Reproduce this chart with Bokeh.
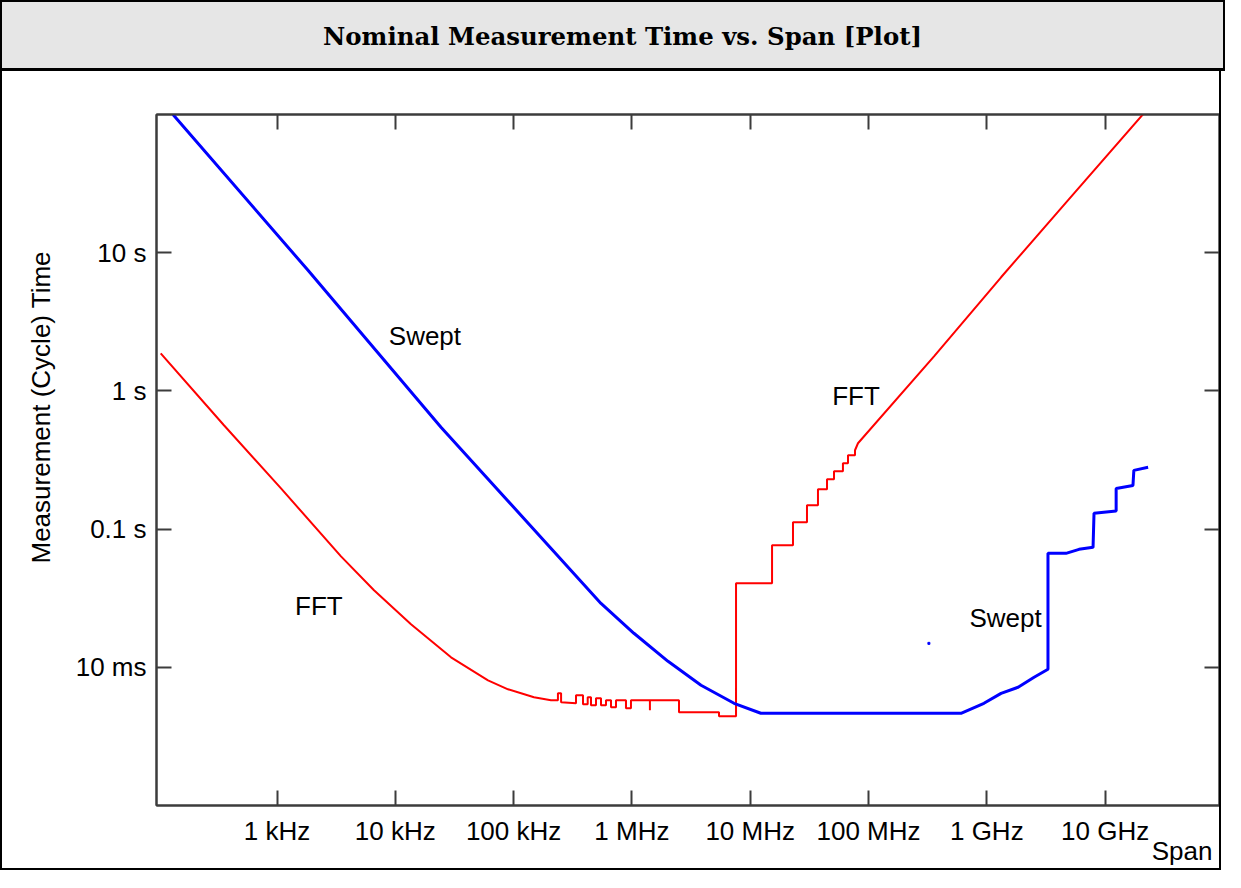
from bokeh.plotting import figure
from bokeh.models import Range1d, FixedTicker, LogAxis, Label, Title, Div
from bokeh.layouts import column
from bokeh.embed import file_html
from bokeh.resources import INLINE

# ---------------- data ----------------
title_text = "Nominal Measurement Time vs. Span [Plot]"
x_axis_title = "Span"
y_axis_title = "Measurement (Cycle) Time"

x_ticks = [1000, 10000, 100000, 1000000, 10000000, 100000000, 1000000000, 10000000000]
x_tick_labels = ["1 kHz", "10 kHz", "100 kHz", "1 MHz", "10 MHz", "100 MHz", "1 GHz", "10 GHz"]
y_ticks = [0.01, 0.1, 1.0, 10.0]
y_tick_labels = ["10 ms", "0.1 s", "1 s", "10 s"]

# Swept measurement time (s) vs span (Hz)
swept_span_hz = [132, 1828, 24330, 5.48e5, 1.04e6, 2.02e6, 3.84e6, 7.30e6, 1.23e7,
                 6.05e8, 9.46e8, 1.32e9, 1.84e9, 2.51e9, 3.29e9, 3.29e9, 4.67e9,
                 6.02e9, 7.91e9, 8.06e9, 1.24e10, 1.24e10, 1.72e10, 1.75e10, 2.31e10]
swept_time_s = [100, 7.46, 0.546, 0.0290, 0.01763, 0.01105, 0.00741, 0.00549, 0.00465,
                0.00465, 0.00549, 0.00648, 0.00717, 0.00847, 0.00967, 0.0668, 0.0668,
                0.0714, 0.0738, 0.130, 0.135, 0.197, 0.207, 0.266, 0.280]
swept_dot_hz = [3.24e8]
swept_dot_s = [0.0149]

# FFT measurement time (s) vs span (Hz)
fft_span_hz = [104, 356, 1081, 3475, 6607, 13570, 29580, 60770, 89700, 148700, 207000,
               237e3, 237e3, 252e3, 252e3, 337e3, 337e3, 386e3, 386e3,
               423e3, 423e3, 451e3, 451e3, 497e3, 497e3, 548e3, 548e3,
               604e3, 604e3, 666e3, 666e3, 734e3, 734e3, 891e3, 891e3,
               982e3, 982e3, 1.42e6, 1.42e6, 1.42e6, 2.50e6, 2.50e6,
               5.45e6, 5.45e6, 7.59e6, 7.59e6,
               15.3e6, 15.3e6, 23.0e6, 23.0e6, 30.2e6, 30.2e6, 37.4e6, 37.4e6,
               44.6e6, 44.6e6, 51.1e6, 51.1e6, 60.8e6, 60.8e6, 67.1e6, 67.1e6,
               76.9e6, 76.9e6, 81.5e6, 358e6, 1.32e9, 4.85e9, 2.09e10]
fft_time_s = [1.87, 0.564, 0.197, 0.0635, 0.0361, 0.0205, 0.01181, 0.00805, 0.00693,
              0.00607, 0.00577,
              0.00577, 0.00648, 0.00648, 0.00558, 0.00549, 0.00627, 0.00627, 0.00540,
              0.00540, 0.00607, 0.00607, 0.00531, 0.00531, 0.00597, 0.00597, 0.00531,
              0.00531, 0.00577, 0.00577, 0.00514, 0.00514, 0.00577, 0.00577, 0.00505,
              0.00505, 0.00577, 0.00577, 0.00489, 0.00577, 0.00577, 0.00473,
              0.00473, 0.00442, 0.00442, 0.0405,
              0.0405, 0.0764, 0.0764, 0.112, 0.112, 0.149, 0.149, 0.194,
              0.194, 0.229, 0.229, 0.262, 0.262, 0.299, 0.299, 0.342,
              0.342, 0.372, 0.418, 1.78, 6.64, 23.9, 100.3]

# annotation texts
curve_labels = ["Swept", "FFT", "FFT", "Swept"]

# ---------------- styling ----------------
FONT = "Liberation Sans"
FS = "26px"
FRAME = "#3c3c3c"
W = 1225

header = Div(text=title_text, width=W, height=71, margin=(0, 0, 0, 0),
             styles={"background-color": "#e6e6e6",
                     "border": "2px solid black",
                     "border-bottom": "3px solid black",
                     "box-sizing": "border-box",
                     "padding-left": "20px",
                     "font-family": "DejaVu Serif",
                     "font-weight": "bold",
                     "font-size": "24.4px",
                     "color": "black",
                     "text-align": "center",
                     "line-height": "70px"})

p = figure(width=W - 4, height=799, x_axis_type="log", y_axis_type="log",
           x_range=Range1d(95.8, 9.27e10), y_range=Range1d(1e-3, 1e2),
           toolbar_location=None, output_backend="svg",
           min_border_left=154, min_border_right=4, min_border_top=43,
           min_border_bottom=65, background_fill_color="white",
           border_fill_color="white", outline_line_color=FRAME,
           outline_line_width=2, margin=(0, 0, 0, 0),
           styles={"border-left": "2px solid black",
                   "border-right": "2px solid black",
                   "border-bottom": "2px solid black"})
p.grid.visible = False


def style_axis(ax, ticks, labels, size=FS):
    ax.ticker = FixedTicker(ticks=ticks, minor_ticks=[])
    ax.major_label_overrides = {t: l for t, l in zip(ticks, labels)}
    ax.major_tick_in = 15
    ax.major_tick_out = 0
    ax.major_tick_line_width = 2
    ax.major_tick_line_color = FRAME
    ax.minor_tick_line_color = None
    ax.axis_line_color = FRAME
    ax.axis_line_width = 2
    ax.major_label_text_font = FONT
    ax.major_label_text_font_size = size
    ax.major_label_text_color = "black"


style_axis(p.xaxis[0], x_ticks, x_tick_labels)
style_axis(p.yaxis[0], y_ticks, y_tick_labels)
p.xaxis[0].major_label_standoff = 10
p.yaxis[0].major_label_standoff = 10

top_axis = LogAxis()
style_axis(top_axis, x_ticks, ["" for _ in x_ticks], "1px")
top_axis.major_label_standoff = 0
p.add_layout(top_axis, "above")
right_axis = LogAxis()
style_axis(right_axis, y_ticks, ["" for _ in y_ticks], "1px")
right_axis.major_label_standoff = 0
p.add_layout(right_axis, "right")

# axis titles in the side panels
p.add_layout(Title(text=y_axis_title, align="left", offset=242, standoff=34,
                   text_font=FONT, text_font_size=FS, text_font_style="normal",
                   text_color="black"), "left")
p.add_layout(Title(text=x_axis_title, align="right", offset=7, standoff=-26,
                   vertical_align="top",
                   text_font=FONT, text_font_size=FS, text_font_style="normal",
                   text_color="black"), "below")

# curves
p.line(fft_span_hz, fft_time_s, line_color="#ff0000", line_width=2)
p.line(swept_span_hz, swept_time_s, line_color="#0000ff", line_width=3)
p.scatter(swept_dot_hz, swept_dot_s, marker="square", size=2, color="#0000ff")

# in-plot labels (data units, text baseline)
label_pos = [(1.78e4, 2.50), (2.26e3, 0.0279), (7.84e7, 0.922), (1.44e9, 0.0226)]
for txt, (lx, ly) in zip(curve_labels, label_pos):
    p.add_layout(Label(x=lx, y=ly, text=txt, text_align="center",
                       text_baseline="alphabetic", text_font=FONT,
                       text_font_size=FS, text_color="black"))

layout = column(header, p, spacing=0)

open("out.html", "w").write(file_html(layout, INLINE))
